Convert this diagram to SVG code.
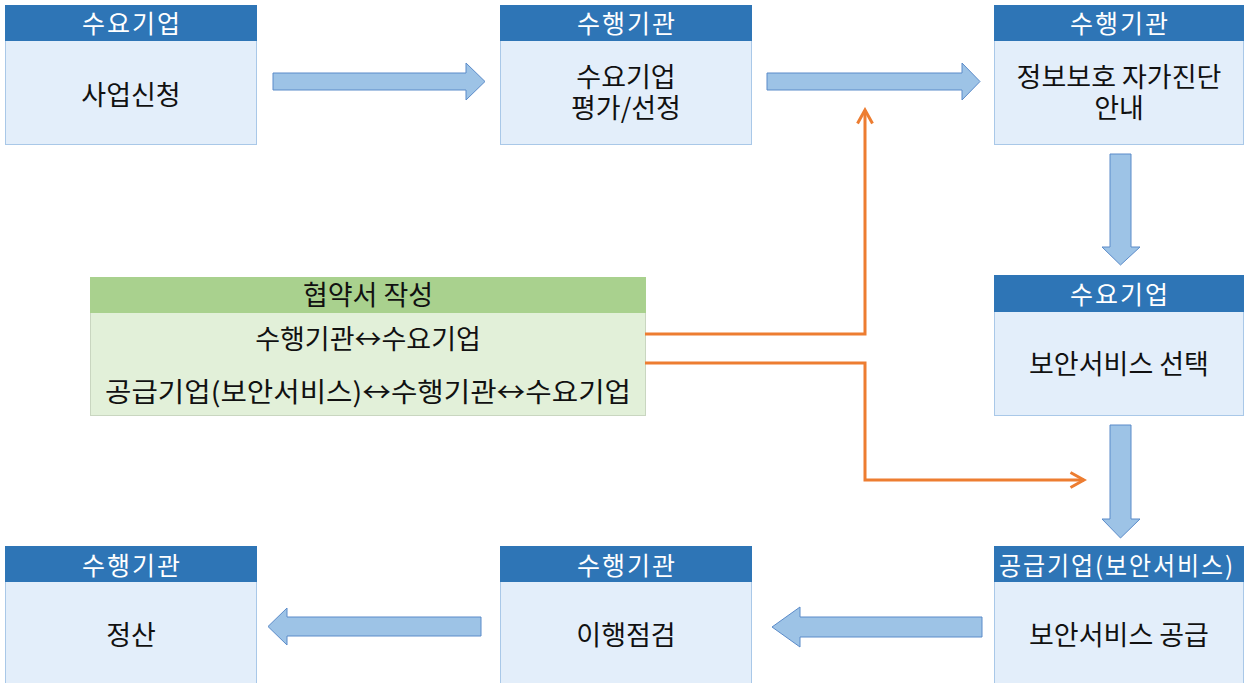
<svg xmlns="http://www.w3.org/2000/svg" width="1245" height="683" viewBox="0 0 1245 683">
<defs>
<style>
.hd{fill:#2E75B6;}
.bd{fill:#E3EEFA;stroke:#A9C8E8;stroke-width:1;}
.ht{fill:#FFFFFF;font-family:"Noto Sans CJK KR","Noto Sans",sans-serif;font-size:25px;letter-spacing:2px;text-anchor:middle;dominant-baseline:central;}
.bt{fill:#111111;font-family:"Noto Sans CJK KR","Noto Sans",sans-serif;font-size:27px;text-anchor:middle;dominant-baseline:central;}
.ghd{fill:#A9D18E;}
.gbd{fill:#E2F0D9;stroke:#C9D6C0;stroke-width:1;}
.gt{fill:#111111;font-family:"Noto Sans CJK KR","Noto Sans",sans-serif;font-size:27px;text-anchor:middle;dominant-baseline:central;}
.blk{fill:#9DC3E6;stroke:#5B8BC9;stroke-width:1;}
.or{fill:none;stroke:#ED7D31;stroke-width:3;}
</style>
<marker id="oa" viewBox="0 0 12 12" refX="10" refY="6" markerWidth="6" markerHeight="6" markerUnits="strokeWidth" orient="auto">
<path d="M1,1 L10,6 L1,11" fill="none" stroke="#ED7D31" stroke-width="2"/>
</marker>
</defs>
<rect width="1245" height="683" fill="#FFFFFF"/>

<g id="n1">
<rect class="bd" x="5.5" y="5.5" width="251" height="139"/>
<rect class="hd" x="5" y="5" width="252" height="36"/>
<text class="ht" x="132" y="22">수요기업</text>
<text class="bt" x="131" y="93">사업신청</text>
</g>

<g id="n2">
<rect class="bd" x="500.5" y="5.5" width="251" height="139"/>
<rect class="hd" x="500" y="5" width="252" height="36"/>
<text class="ht" x="627" y="22">수행기관</text>
<text class="bt"><tspan x="626" y="75">수요기업</tspan><tspan x="626" y="106">평가/선정</tspan></text>
</g>

<g id="n3">
<rect class="bd" x="994.5" y="5.5" width="249" height="139"/>
<rect class="hd" x="994" y="5" width="250" height="36"/>
<text class="ht" x="1120" y="22">수행기관</text>
<text class="bt"><tspan x="1119" y="75">정보보호 자가진단</tspan><tspan x="1119" y="106">안내</tspan></text>
</g>

<g id="n4">
<rect class="bd" x="994.5" y="275.5" width="249" height="140"/>
<rect class="hd" x="994" y="275" width="250" height="37"/>
<text class="ht" x="1120" y="293">수요기업</text>
<text class="bt" x="1119" y="362">보안서비스 선택</text>
</g>

<g id="n5">
<rect class="bd" x="994.5" y="546.5" width="249" height="140"/>
<rect class="hd" x="994" y="546" width="250" height="36"/>
<text class="ht" x="1117" y="564" letter-spacing="0" textLength="236" lengthAdjust="spacingAndGlyphs">공급기업(보안서비스)</text>
<text class="bt" x="1119" y="633">보안서비스 공급</text>
</g>

<g id="n6">
<rect class="bd" x="500.5" y="546.5" width="251" height="140"/>
<rect class="hd" x="500" y="546" width="252" height="36"/>
<text class="ht" x="627" y="564">수행기관</text>
<text class="bt" x="626" y="633">이행점검</text>
</g>

<g id="n7">
<rect class="bd" x="5.5" y="546.5" width="251" height="140"/>
<rect class="hd" x="5" y="546" width="252" height="36"/>
<text class="ht" x="132" y="564">수행기관</text>
<text class="bt" x="131" y="633">정산</text>
</g>

<g id="n8">
<rect class="gbd" x="90.5" y="277.5" width="555" height="138"/>
<rect class="ghd" x="90" y="277" width="556" height="36"/>
<text class="gt" x="368" y="293" font-size="25">협약서 작성</text>
<text class="gt" x="368" y="337">수행기관↔수요기업</text>
<text class="gt" x="368" y="390" textLength="526" lengthAdjust="spacingAndGlyphs">공급기업(보안서비스)↔수행기관↔수요기업</text>
</g>

<g id="connectors">
<path class="blk" d="M273,73 L466,73 L466,63 L485,81.5 L466,100 L466,90 L273,90 Z"/>
<path class="blk" d="M767,73 L962,73 L962,63 L980,81.5 L962,100 L962,90 L767,90 Z"/>
<path class="blk" d="M1110,154 L1131,154 L1131,247 L1140,247 L1120.5,265 L1102,247 L1110,247 Z"/>
<path class="blk" d="M1110,425 L1131,425 L1131,519 L1140,519 L1120.5,538 L1102,519 L1110,519 Z"/>
<path class="blk" d="M982,617 L800,617 L800,607 L772,627 L800,647 L800,637 L982,637 Z"/>
<path class="blk" d="M481,617 L287,617 L287,608 L268,626.5 L287,645 L287,636 L481,636 Z"/>
<path class="or" d="M645,334 L865,334 L865,110" marker-end="url(#oa)"/>
<path class="or" d="M645,363 L865,363 L865,480 L1084,480" marker-end="url(#oa)"/>
</g>
</svg>
